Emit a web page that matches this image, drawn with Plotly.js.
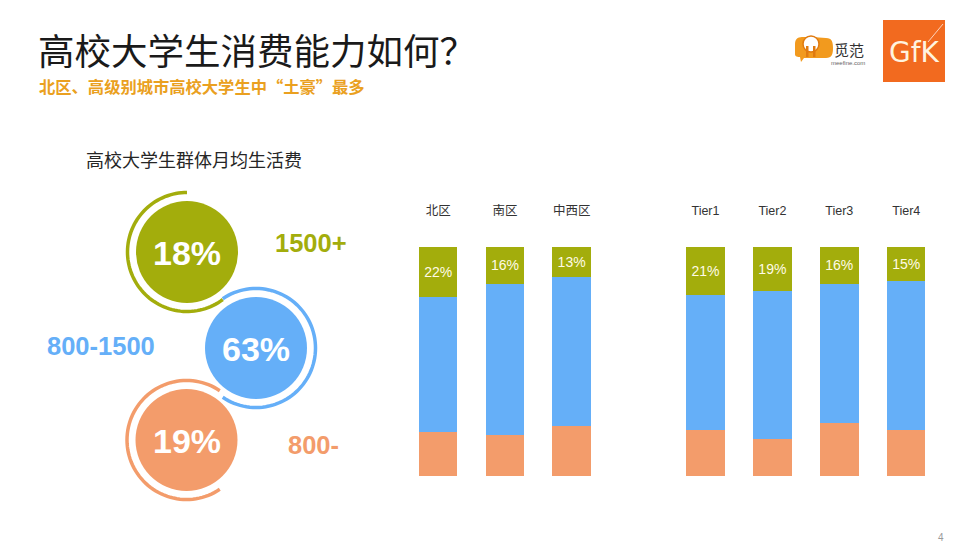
<!DOCTYPE html>
<html>
<head>
<meta charset="utf-8">
<script src="https://cdn.plot.ly/plotly-3.0.1.min.js"></script>
<style>html,body{margin:0;padding:0;background:#fff;}#chart{width:980px;height:551px;}</style>
</head>
<body>
<div id="chart"></div>
<script>
// ---- data ----
var regions = ['北区', '南区', '中西区'];
var regionLow = [19, 18, 22];   // 800-
var regionMid = [59, 66, 65];   // 800-1500
var regionHigh = [22, 16, 13];  // 1500+

var tiers = ['Tier1', 'Tier2', 'Tier3', 'Tier4'];
var tierLow = [20, 16, 23, 20];
var tierMid = [59, 65, 61, 65];
var tierHigh = [21, 19, 16, 15];

var overallLabels = ['1500+', '800-1500', '800-'];
var overallValues = [18, 63, 19];

// ---- styles ----
var W = 980, H = 551;
var cGreen = '#a3ad0c', cBlue = '#65aff8', cOrange = '#f39c6b';
var FONT = 'Liberation Sans, Arial, Noto Sans CJK SC, sans-serif';
var CJK = 'Noto Sans CJK SC, Liberation Sans, sans-serif';

function px(x) { return x / W; }
function py(y) { return 1 - y / H; }

function bar(x, y, color, axis, withText) {
  var t = {
    type: 'bar', x: x, y: y, xaxis: axis, yaxis: 'y',
    marker: {color: color, line: {width: 0}},
    hoverinfo: 'skip', showlegend: false
  };
  if (withText) {
    t.text = y.map(function (v) { return v + '%'; });
    t.textposition = 'inside';
    t.insidetextanchor = 'middle';
    t.textangle = 0;
    t.constraintext = 'none';
    t.insidetextfont = {color: '#fffbe6', size: 14, family: FONT};
  } else {
    t.textposition = 'none';
  }
  return t;
}

var data = [
  bar(regions, regionLow, cOrange, 'x', false),
  bar(regions, regionMid, cBlue, 'x', false),
  bar(regions, regionHigh, cGreen, 'x', true),
  bar(tiers, tierLow, cOrange, 'x2', false),
  bar(tiers, tierMid, cBlue, 'x2', false),
  bar(tiers, tierHigh, cGreen, 'x2', true)
];

// ---- decorative circles ----
var circles = [
  {cx: 187, cy: 252, color: cGreen, a0: 90, a1: 307},
  {cx: 256, cy: 348, color: cBlue, a0: 124, a1: -124},
  {cx: 186.5, cy: 440, color: cOrange, a0: 56, a1: 304}
];
function arcPath(r, a0, a1) {
  var n = 80, s = '';
  for (var i = 0; i <= n; i++) {
    var a = (a0 + (a1 - a0) * i / n) * Math.PI / 180;
    var x = (r * Math.cos(a)).toFixed(2), y = (r * Math.sin(a)).toFixed(2);
    s += (i === 0 ? 'M' : 'L') + x + ',' + y;
  }
  return s;
}
var shapes = [];
var annotations = [];
var labelPos = [
  {x: 311, y: 243},
  {x: 101, y: 346},
  {x: 313, y: 445}
];
circles.forEach(function (c, i) {
  shapes.push({
    type: 'circle', xref: 'paper', yref: 'paper',
    xsizemode: 'pixel', ysizemode: 'pixel',
    xanchor: px(c.cx), yanchor: py(c.cy),
    x0: -51, x1: 51, y0: -51, y1: 51,
    fillcolor: c.color, line: {width: 0}, layer: 'above'
  });
  shapes.push({
    type: 'path', xref: 'paper', yref: 'paper',
    xsizemode: 'pixel', ysizemode: 'pixel',
    xanchor: px(c.cx), yanchor: py(c.cy),
    path: arcPath(59.5, c.a0, c.a1),
    line: {color: c.color, width: 3.5}, layer: 'above'
  });
  annotations.push({
    xref: 'paper', yref: 'paper', x: px(c.cx), y: py(c.cy + 1),
    xanchor: 'center', yanchor: 'middle', showarrow: false,
    text: '<b>' + overallValues[i] + '%</b>',
    font: {family: FONT, size: 34, color: '#ffffff'}
  });
  annotations.push({
    xref: 'paper', yref: 'paper', x: px(labelPos[i].x), y: py(labelPos[i].y),
    xanchor: 'center', yanchor: 'middle', showarrow: false,
    text: '<b>' + overallLabels[i] + '</b>',
    font: {family: FONT, size: 25.5, color: c.color}
  });
});

// titles
annotations.push({
  xref: 'paper', yref: 'paper', x: px(36), y: py(49), xanchor: 'left', yanchor: 'middle',
  showarrow: false, text: '高校大学生消费能力如何？',
  font: {family: CJK, size: 36.5, color: '#1a1a1a'}
});
annotations.push({
  xref: 'paper', yref: 'paper', x: px(37), y: py(86), xanchor: 'left', yanchor: 'middle',
  showarrow: false, text: '<b>北区、高级别城市高校大学生中“土豪”最多</b>',
  font: {family: CJK, size: 16.3, color: '#eaa020'}
});
annotations.push({
  xref: 'paper', yref: 'paper', x: px(84), y: py(159), xanchor: 'left', yanchor: 'middle',
  showarrow: false, text: '高校大学生群体月均生活费',
  font: {family: CJK, size: 18, color: '#262626'}
});
annotations.push({
  xref: 'paper', yref: 'paper', x: px(941), y: py(537), xanchor: 'center', yanchor: 'middle',
  showarrow: false, text: '4',
  font: {family: FONT, size: 10, color: '#9a9a9a'}
});

// GfK logo
shapes.push({
  type: 'rect', xref: 'paper', yref: 'paper',
  x0: px(883), x1: px(945), y0: py(82), y1: py(20),
  fillcolor: '#f26a1f', line: {width: 0}
});
shapes.push({
  type: 'line', xref: 'paper', yref: 'paper',
  x0: px(928), x1: px(943), y0: py(42), y1: py(24),
  line: {color: 'rgba(255,255,255,0.7)', width: 1}
});
annotations.push({
  xref: 'paper', yref: 'paper', x: px(914), y: py(53), xanchor: 'center', yanchor: 'middle',
  showarrow: false, text: 'GfK',
  font: {family: 'DejaVu Sans, sans-serif', size: 28, color: '#fff3df'}
});

// meefine logo (approximate)
shapes.push({
  type: 'path', xref: 'paper', yref: 'paper',
  xsizemode: 'pixel', ysizemode: 'pixel', xanchor: px(814), yanchor: py(48),
  path: 'M-19,-6 L-19,4 C-19,12 -12,11 -8,11 C-6,12 -4,12 -2,11 L12,10 C18,10 19,6 19,0 C19,-6 18,-10 12,-10 L-10,-10 L-13,-14 L-14,-9 C-18,-9 -19,-8 -19,-6 Z',
  fillcolor: '#f29a1e', line: {width: 0}
});
shapes.push({
  type: 'circle', xref: 'paper', yref: 'paper',
  xsizemode: 'pixel', ysizemode: 'pixel', xanchor: px(811), yanchor: py(44),
  x0: -8, x1: 8, y0: -8, y1: 8,
  fillcolor: '#ffffff', line: {color: '#e07a10', width: 1.5}
});
shapes.push({
  type: 'rect', xref: 'paper', yref: 'paper',
  x0: px(806), x1: px(808.5), y0: py(57), y1: py(46),
  fillcolor: '#e07a10', line: {width: 0}
});
shapes.push({
  type: 'rect', xref: 'paper', yref: 'paper',
  x0: px(813), x1: px(815.5), y0: py(57), y1: py(46),
  fillcolor: '#e07a10', line: {width: 0}
});
annotations.push({
  xref: 'paper', yref: 'paper', x: px(849), y: py(49), xanchor: 'center', yanchor: 'middle',
  showarrow: false, text: '觅范',
  font: {family: CJK, size: 15, color: '#333333'}
});
annotations.push({
  xref: 'paper', yref: 'paper', x: px(848), y: py(63), xanchor: 'center', yanchor: 'middle',
  showarrow: false, text: 'meefine.com',
  font: {family: FONT, size: 6, color: '#666666'}
});

var axisCommon = {
  type: 'category', side: 'top', anchor: 'y',
  showgrid: false, zeroline: false, showline: false, ticks: '',
  tickfont: {family: 'Liberation Sans, Noto Sans CJK SC, sans-serif', size: 12.5, color: '#333333'},
  ticklabelstandoff: 29, fixedrange: true
};

var layout = {
  width: W, height: H,
  margin: {l: 0, r: 0, t: 0, b: 0},
  paper_bgcolor: '#ffffff', plot_bgcolor: 'rgba(0,0,0,0)',
  barmode: 'stack',
  showlegend: false,
  xaxis: Object.assign({}, axisCommon, {domain: [404.8 / W, 605 / W], range: [-0.5, 2.5]}),
  xaxis2: Object.assign({}, axisCommon, {domain: [672 / W, 939.7 / W], range: [-0.5, 3.5]}),
  yaxis: {domain: [(H - 476) / H, (H - 247) / H], range: [0, 100], visible: false, fixedrange: true},
  bargap: 0.425,
  shapes: shapes,
  annotations: annotations
};

Plotly.newPlot('chart', data, layout, {displayModeBar: false, staticPlot: true});
</script>
</body>
</html>
